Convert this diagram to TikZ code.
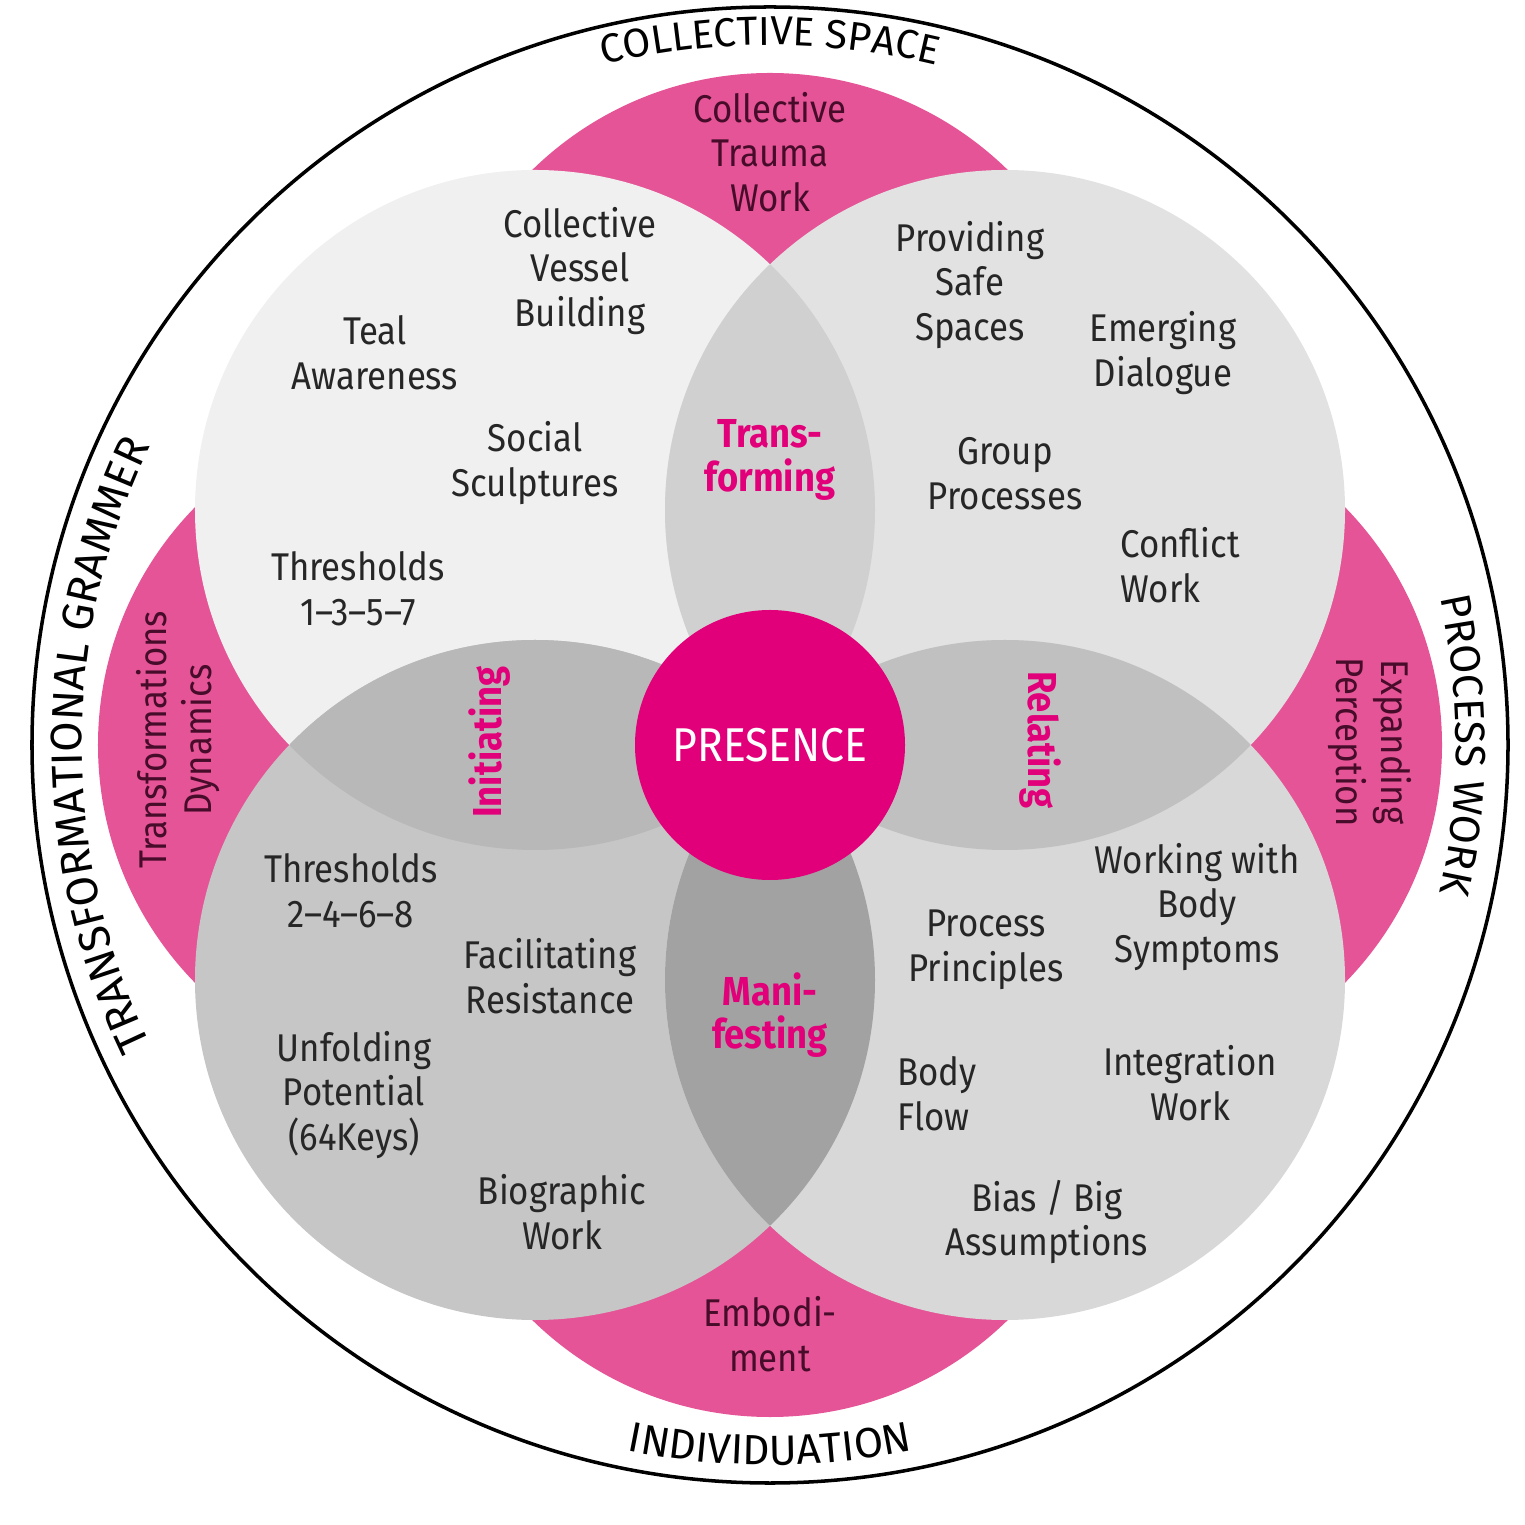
\documentclass[tikz,border=0pt]{standalone}
\usepackage{fontspec}
\setmainfont{Fira Sans}[FakeStretch=0.9]
\newfontfamily\ringfont{Fira Sans}
\usetikzlibrary{decorations.text}

\definecolor{petalpink}{RGB}{229,84,150}
\definecolor{presencepink}{RGB}{226,0,122}
\definecolor{pinkink}{RGB}{70,12,42}
\definecolor{greyTL}{RGB}{240,240,240}
\definecolor{greyTR}{RGB}{226,226,226}
\definecolor{greyBL}{RGB}{198,198,198}
\definecolor{greyBR}{RGB}{216,216,216}
\definecolor{lensT}{RGB}{208,208,208}
\definecolor{lensL}{RGB}{184,184,184}
\definecolor{lensR}{RGB}{192,192,192}
\definecolor{lensB}{RGB}{162,162,162}

\begin{document}
\begin{tikzpicture}[item/.style = {align=center,text=black!85,font=\fontsize{11}{12.7}\selectfont},
                    stage/.style = {align=center,text=presencepink,font=\bfseries\fontsize{11.5}{12.3}\selectfont},
                    zone/.style = {align=center,text=pinkink,font=\fontsize{11}{12.7}\selectfont},
                    ring/.style = {decorate,decoration={text along path,text align=center,text={#1}}}]
                    \useasboundingbox (-7.70,-7.80) rectangle (7.55,7.45);

                    % pink petals behind
                    \foreach \a in {0,90,180,270}
                        \fill[petalpink] (\a:3.32) circle (3.4);

                    % grey circles
                    \coordinate (tl) at (-2.35,2.35);
                    \coordinate (tr) at (2.35,2.35);
                    \coordinate (bl) at (-2.35,-2.35);
                    \coordinate (br) at (2.35,-2.35);
                    \fill[greyTL] (tl) circle (3.4);
                    \fill[greyTR] (tr) circle (3.4);
                    \fill[greyBL] (bl) circle (3.4);
                    \fill[greyBR] (br) circle (3.4);

                    % overlaps
                    \begin{scope}
                        \clip (tl) circle (3.4);
                        \fill[lensT] (tr) circle (3.4);
                        \fill[lensL] (bl) circle (3.4);
                    \end{scope}
                    \begin{scope}
                        \clip (br) circle (3.4);
                        \fill[lensR] (tr) circle (3.4);
                        \fill[lensB] (bl) circle (3.4);
                    \end{scope}

                    \node[circle,fill=presencepink,minimum size=2.7cm,inner sep=0pt,text=white,
                          font=\fontsize{13.5}{15}\selectfont] (presence) at (0,0) {PRESENCE};

                    % top left
                    \node[item] (vessel) at (-1.90,4.74) {Collective\\Vessel\\Building};
                    \node[item] (teal) at (-3.95,3.92) {Teal\\Awareness};
                    \node[item] (social) at (-2.35,2.82) {Social\\Sculptures};
                    \node[item] (thresodd) at (-4.12,1.56) {Thresholds\\1--3--5--7};

                    % top right
                    \node[item] (safe) at (2.00,4.60) {Providing\\Safe\\Spaces};
                    \node[item] (dialogue) at (3.93,3.92) {Emerging\\Dialogue};
                    \node[item] (group) at (2.35,2.71) {Group\\Processes};
                    \node[item,align=left,anchor=west] (conflict) at (3.38,1.80) {Conflict\\Work};

                    % bottom left
                    \node[item] (threseven) at (-4.19,-1.46) {Thresholds\\2--4--6--8};
                    \node[item] (resist) at (-2.20,-2.31) {Facilitating\\Resistance};
                    \node[item] (unfold) at (-4.16,-3.50) {Unfolding\\Potential\\(64Keys)};
                    \node[item] (biog) at (-2.08,-4.67) {Biographic\\Work};

                    % bottom right
                    \node[item] (symptoms) at (4.27,-1.62) {Working with\\Body\\Symptoms};
                    \node[item] (principles) at (2.16,-2.05) {Process\\Principles};
                    \node[item,align=left,anchor=west] (flow) at (1.15,-3.49) {Body\\Flow};
                    \node[item] (integr) at (4.20,-3.38) {Integration\\Work};
                    \node[item] (bias) at (2.77,-4.77) {Bias / Big\\Assumptions};

                    % lenses
                    \node[stage] (transf) at (0,2.85) {Trans-\\forming};
                    \node[stage,rotate=90] (init) at (-2.80,0.03) {Initiating};
                    \node[stage,rotate=-90] (relat) at (2.70,0.05) {Relating};
                    \node[stage] (manif) at (0,-2.70) {Mani-\\festing};

                    % petals
                    \node[zone] (trauma) at (0,5.93) {Collective\\Trauma\\Work};
                    \node[zone,rotate=90] (dynamics) at (-5.92,0.05) {Transformations\\Dynamics};
                    \node[zone,rotate=-90] (perception) at (6.00,0.03) {Expanding\\Perception};
                    \node[zone] (embodi) at (0,-5.89) {Embodi-\\ment};

                    % outer ring
                    \draw[line width=1pt] (0,0) circle (7.38);
                    \path[ring={|\ringfont\fontsize{11.5}{14}\selectfont|COLLECTIVE SPACE}]
                        (120:7.00) arc[start angle=120,end angle=60,radius=7.00];
                    \path[ring={|\ringfont\fontsize{12.5}{15}\selectfont|TRANSFORMATIONAL GRAMMER}]
                        (215:6.88) arc[start angle=215,end angle=145,radius=6.88];
                    \path[ring={|\ringfont\fontsize{12}{14}\selectfont|PROCESS WORK}]
                        (35:6.86) arc[start angle=35,end angle=-35,radius=6.86];
                    \path[ring={|\ringfont\fontsize{12}{14}\selectfont|INDIVIDUATION}]
                        (240:7.20) arc[start angle=240,end angle=300,radius=7.20];
                \end{tikzpicture}
\end{document}
